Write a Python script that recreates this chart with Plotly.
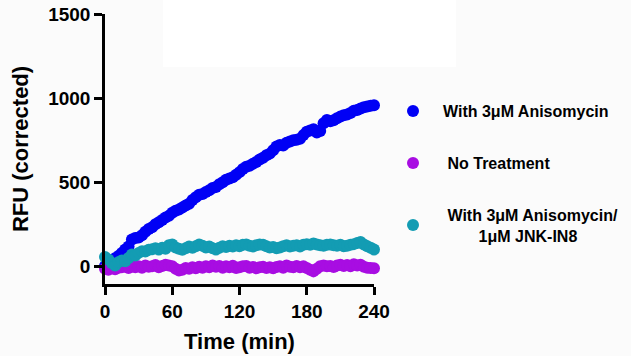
import plotly.graph_objects as go

# Time points (min)
time_min = list(range(0, 241, 3))

# RFU (corrected) values
anisomycin = [2, 18, 30, 48, 62, 80, 100, 118, 160, 168,
              172, 185, 205, 222, 232, 250, 262, 275, 290, 300,
              318, 330, 338, 350, 362, 372, 395, 410, 425, 430,
              442, 452, 465, 472, 488, 500, 515, 522, 530, 545,
              560, 578, 592, 598, 610, 620, 635, 645, 660, 670,
              690, 712, 722, 718, 735, 742, 750, 752, 758, 780,
              800, 808, 815, 795, 805, 850, 870, 862, 868, 880,
              890, 898, 902, 912, 925, 930, 938, 945, 950, 955,
              958]

no_treatment = [-15, -20, -12, -18, -8, -5, 0, -10, 2, -5,
                0, -8, 5, -2, 0, 8, -5, 2, 10, 5,
                0, -15, -25, -20, -10, -15, -5, -12, -2, -8,
                0, -5, 5, -3, 2, -8, 0, -5, 3, -10,
                -6, 0, 2, -8, -4, -12, -5, -2, -10, -6,
                -12, -4, 0, -8, 5, -2, -6, 2, -5, 0,
                -10, -20, -30, -15, 0, 5, 0, 2, -4, 5,
                10, 2, 8, 0, 12, 5, 10, -2, -8, -10,
                -12]

aniso_jnk = [55, 40, 20, 5, 25, 35, 30, 50, 70, 65,
             80, 90, 88, 98, 102, 108, 100, 110, 105, 125,
             130, 112, 105, 98, 108, 118, 110, 120, 130, 122,
             112, 118, 108, 100, 110, 120, 115, 122, 118, 125,
             120, 128, 130, 122, 118, 125, 130, 128, 120, 112,
             115, 108, 112, 120, 125, 118, 122, 125, 118, 128,
             132, 128, 136, 130, 125, 122, 128, 130, 125, 122,
             128, 120, 123, 128, 132, 138, 145, 130, 120, 110,
             100]

series_names = ["With 3\u03bcM Anisomycin",
                "\u00a0No Treatment",
                "\u00a0With 3\u03bcM Anisomycin/<br>" + "\u00a0" * 8 + "1\u03bcM JNK-IN8"]
series_values = [anisomycin, no_treatment, aniso_jnk]
series_colors = ["#0000F5", "#A80DE2", "#139CB3"]

x_ticks = [0, 60, 120, 180, 240]
y_ticks = [0, 500, 1000, 1500]

FONT = "Liberation Sans, Arial, sans-serif"

fig = go.Figure()
for i, (name, vals, col) in enumerate(zip(series_names, series_values, series_colors)):
    fig.add_trace(go.Scatter(
        x=time_min, y=vals, name=name, mode="markers",
        marker=dict(color=col, size=12, line=dict(width=0)),
        cliponaxis=False, legendgroup=f"g{i}",
    ))

axis_common = dict(
    showgrid=False, zeroline=False, showline=True, linecolor="black",
    linewidth=2.5, ticks="outside", ticklen=8, tickwidth=2.5, tickcolor="black",
    automargin=False,
    tickfont=dict(family=FONT, size=19, color="black", weight="bold"),
)

fig.update_layout(
    width=631, height=356,
    margin=dict(l=105, r=257, t=14, b=72, autoexpand=False),
    paper_bgcolor="#fbfbfb",
    plot_bgcolor="rgba(0,0,0,0)",
    xaxis=dict(range=[0, 240], tickvals=x_ticks, **axis_common,
               title=dict(text="Time (min)", standoff=14,
                          font=dict(family=FONT, size=22, color="black", weight="bold"))),
    yaxis=dict(range=[-105, 1500], tickvals=y_ticks, **axis_common,
               title=dict(text="RFU (corrected)", standoff=14,
                          font=dict(family=FONT, size=22, color="black", weight="bold"))),
    showlegend=True,
    legend=dict(xref="container", yref="container", x=0.607, y=0.7354,
                xanchor="left", yanchor="top",
                bgcolor="rgba(0,0,0,0)", itemwidth=50, tracegroupgap=28,
                valign="middle",
                font=dict(family=FONT, size=16, color="black", weight="bold")),
    shapes=[dict(type="rect", xref="paper", yref="paper",
                 x0=0.2156, x1=1.305, y0=0.8037, y1=1.06,
                 fillcolor="white", line=dict(width=0), layer="below")],
)

fig.write_html("out.html")
